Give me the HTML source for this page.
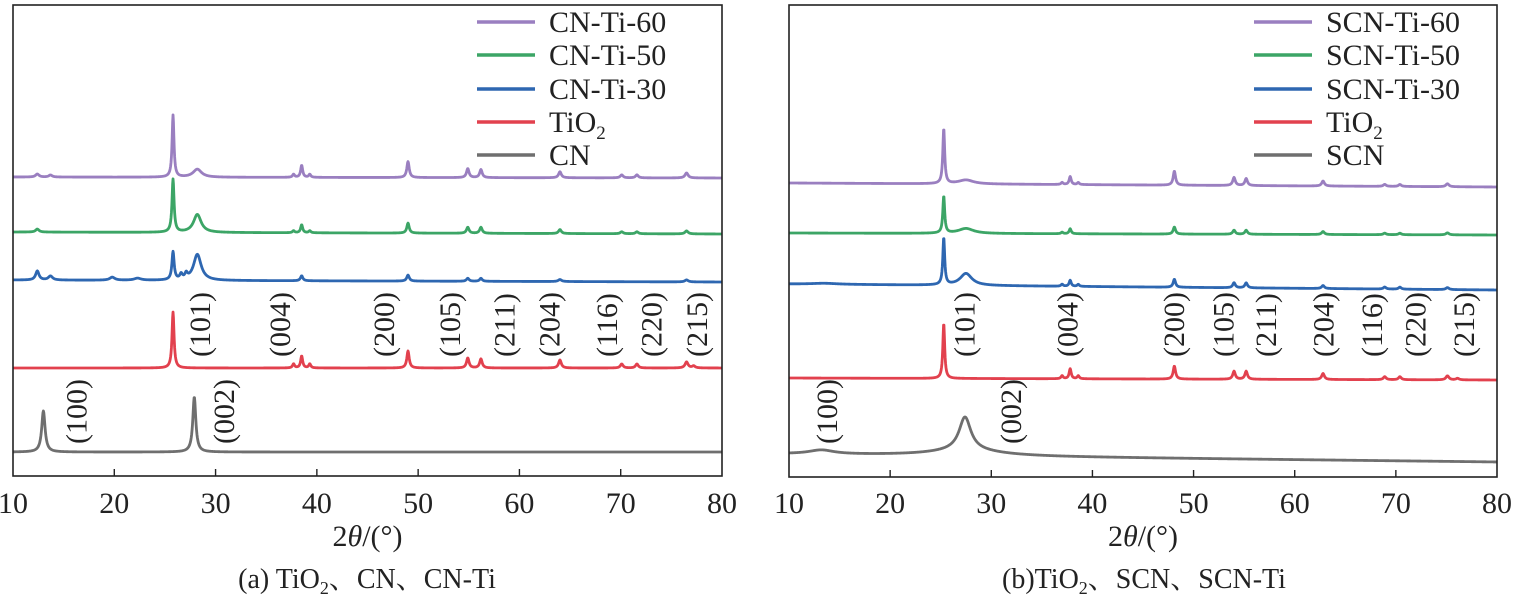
<!DOCTYPE html>
<html><head><meta charset="utf-8"><style>
html,body{margin:0;padding:0;background:#fff}
svg, svg text, svg tspan{font-family:"Liberation Serif","Noto Serif CJK SC",serif}
</style></head><body>
<svg id="chart" width="1517" height="598" viewBox="0 0 1517 598" xmlns="http://www.w3.org/2000/svg" font-family="Liberation Serif, Noto Serif CJK SC, serif"></svg>
<script>
// ---- Data (intensity in a.u.; offsets are stacking offsets in a.u.) ----
const ticksX = [10,20,30,40,50,60,70,80];
const seriesNamesA = ["CN","TiO2","CN-Ti-30","CN-Ti-50","CN-Ti-60"];
const seriesNamesB = ["SCN","TiO2","SCN-Ti-30","SCN-Ti-50","SCN-Ti-60"];
const colors = ["#6f6f6f","#e2414e","#2e67b1","#3ca566","#9a7fc0"];
// Panel A offsets / drift
const offsetsA = [24,108,196,244,299];
const driftA = [0,0,-2,-2,-1];
// peaks: [2theta, height, width]
const peaksA_CN = [[13.0,41,0.2],[27.9,55,0.18]];
const peaksA_TiO2 = [[25.8,56,0.12],[37.7,4,0.12],[38.5,12,0.12],[39.3,4,0.12],[49.0,17,0.14],[54.9,10,0.15],[56.2,9,0.15],[64.0,8,0.16],[70.1,4,0.16],[71.6,4,0.16],[76.5,6,0.18],[77.2,2,0.18]];
const peaksA_30 = [[12.4,9,0.2],[13.7,4,0.25],[19.8,3,0.3],[22.3,2,0.4],[25.8,28,0.13],[26.6,5,0.15],[27.1,5,0.15],[28.2,26,0.45],[38.5,5,0.14],[49.0,6,0.15],[54.9,3,0.15],[56.2,3,0.15],[64.0,2,0.2],[76.5,2,0.2]];
const peaksA_50 = [[12.4,3,0.2],[25.8,53,0.12],[28.2,18,0.45],[37.7,2,0.12],[38.5,8,0.12],[39.3,2,0.12],[49.0,10,0.14],[54.9,6,0.15],[56.2,6,0.15],[64.0,4,0.16],[70.1,2,0.16],[71.6,2,0.16],[76.5,3,0.18]];
const peaksA_60 = [[12.4,3,0.2],[13.7,2,0.2],[25.8,62,0.11],[28.2,8,0.5],[37.7,3,0.12],[38.5,12,0.12],[39.3,3,0.12],[49.0,16,0.14],[54.9,9,0.15],[56.2,8,0.15],[64.0,6,0.16],[70.1,3,0.16],[71.6,3,0.16],[76.5,5,0.18]];
// Panel B
const offsetsB = [23,99,193,244,294];
const driftB = [-8,-2,-6,-2,-4];
const peaksB_SCN = [[13.2,4,1.5],[27.4,33,0.7],[27.5,6,4]];
const peaksB_TiO2 = [[25.3,55,0.11],[37.0,3,0.12],[37.8,10,0.12],[38.6,3,0.12],[48.1,13,0.14],[54.0,8,0.15],[55.2,8,0.15],[62.8,6,0.16],[68.9,3,0.16],[70.4,3,0.16],[75.1,4,0.18],[76.1,1.5,0.18]];
const peaksB_30 = [[13.5,1,1.5],[25.3,47,0.11],[27.5,12,0.7],[37.0,2,0.12],[37.8,6,0.12],[38.6,2,0.12],[48.1,8,0.14],[54.0,5,0.15],[55.2,5,0.15],[62.8,3,0.16],[68.9,2,0.16],[70.4,2,0.16],[75.1,2,0.18]];
const peaksB_50 = [[25.3,37,0.11],[27.5,5,0.9],[37.0,1.5,0.12],[37.8,5,0.12],[48.1,7,0.14],[54.0,4,0.15],[55.2,4,0.15],[62.8,3,0.16],[68.9,1.5,0.16],[70.4,1.5,0.16],[75.1,2,0.18]];
const peaksB_60 = [[25.3,55,0.11],[27.5,4,0.9],[37.0,2,0.12],[37.8,8,0.12],[38.6,2,0.12],[48.1,14,0.14],[54.0,8,0.15],[55.2,7,0.15],[62.8,5,0.16],[68.9,2,0.16],[70.4,2,0.16],[75.1,3,0.18]];
// hkl annotations [label, 2theta-position of label, group]
const hklA = [["(100)",16.3,0],["(002)",30.9,0],["(101)",28.5,1],["(004)",36.4,1],["(200)",46.7,1],["(105)",53.2,1],["(211)",58.6,1],["(204)",63.0,1],["(116)",68.7,1],["(220)",73.1,1],["(215)",77.6,1]];
const hklB = [["(100)",13.8,0],["(002)",32.0,0],["(101)",27.4,1],["(004)",37.6,1],["(200)",48.1,1],["(105)",53.0,1],["(211)",57.2,1],["(204)",62.9,1],["(116)",67.7,1],["(220)",72.0,1],["(215)",76.8,1]];

const NS="http://www.w3.org/2000/svg";
const FF='Liberation Serif, Noto Serif CJK SC, serif';
const svg=document.getElementById('chart');
function mk(tag,attrs,parent){const e=document.createElementNS(NS,tag);for(const k in attrs)e.setAttribute(k,attrs[k]);if(tag==='text')e.setAttribute('font-family',FF);(parent||svg).appendChild(e);return e;}

function drawPanel(p){
  const g=mk('g',{});
  
  
  const L=p.left,R=p.right,T=5,B=p.bottom;
  const xs=v=>L+(v-10)/70*(R-L);
  const ys=v=>B-v;
  p.peaks.forEach((pk,i)=>{
    let d='';
    for(let x=10;x<=80.0001;x+=0.04){
      let v=p.offsets[i]+p.drift[i]*(x-10)/70;
      pk.forEach(q=>{const t=(x-q[0])/q[2];v+=q[1]/(1+t*t);});
      d+=(d?'L':'M')+xs(x).toFixed(2)+','+ys(v).toFixed(2);
    }
    const path=mk('path',{d:d,fill:'none',stroke:colors[i],'stroke-width':2.8,'stroke-linejoin':'round'},g);
    
    
  });
  const fr=mk('rect',{x:L,y:T,width:R-L,height:B-T,fill:'none',stroke:'#222','stroke-width':1.6},g);
  
  
  ticksX.forEach(t=>{
    const tx=xs(t);
    if(t>10&&t<80){
      const tl=mk('line',{x1:tx,x2:tx,y1:B,y2:B-7,stroke:'#222','stroke-width':1.4},g);
      
      
    }
    const lab=mk('text',{x:tx,y:513,'text-anchor':'middle','font-size':30,fill:'#222'},g);
    lab.textContent=t;
    
    
  });
  const xt=mk('text',{x:(L+R)/2,y:546,'text-anchor':'middle','font-size':30,fill:'#222'},g);
  xt.innerHTML='2<tspan font-style="italic">θ</tspan>/(°)';
  
  
  const cap=mk('text',{x:p.capX,y:588,'text-anchor':'middle','font-size':28,fill:'#222'},g);
  cap.innerHTML=p.caption;
  
  
  p.hkl.forEach(h=>{
    const cx=xs(h[1]);const by=h[2]===0?444:357;
    const t=mk('text',{x:cx,y:by,'font-size':30,fill:'#222','dominant-baseline':'central',transform:'rotate(-90 '+cx+' '+by+')'},g);
    t.textContent=h[0];
    
    
  });
  const legY=[155,122,89,55,22];
  p.names.forEach((n,i)=>{
    const lg=mk('g',{},g);
    
    
    mk('line',{x1:p.legX,x2:p.legX+58,y1:legY[i],y2:legY[i],stroke:colors[i],'stroke-width':3.5},lg);
    const t=mk('text',{x:p.legX+72,y:legY[i]+10,'font-size':30,fill:'#222'},lg);
    if(n==='TiO2') t.innerHTML='TiO<tspan font-size="19" dy="7">2</tspan>'; else t.textContent=n;
  });
}
drawPanel({id:'panel-a',left:13,right:722,bottom:476,names:seriesNamesA,offsets:offsetsA,drift:driftA,
  peaks:[peaksA_CN,peaksA_TiO2,peaksA_30,peaksA_50,peaksA_60],hkl:hklA,legX:477,capX:367,
  caption:'(a) TiO<tspan font-size="18" dy="6">2</tspan><tspan dy="-6">、CN、CN-Ti</tspan>'});
drawPanel({id:'panel-b',left:789,right:1497,bottom:477,names:seriesNamesB,offsets:offsetsB,drift:driftB,
  peaks:[peaksB_SCN,peaksB_TiO2,peaksB_30,peaksB_50,peaksB_60],hkl:hklB,legX:1254,capX:1144,
  caption:'(b)TiO<tspan font-size="18" dy="6">2</tspan><tspan dy="-6">、SCN、SCN-Ti</tspan>'});
</script>
</body></html>
